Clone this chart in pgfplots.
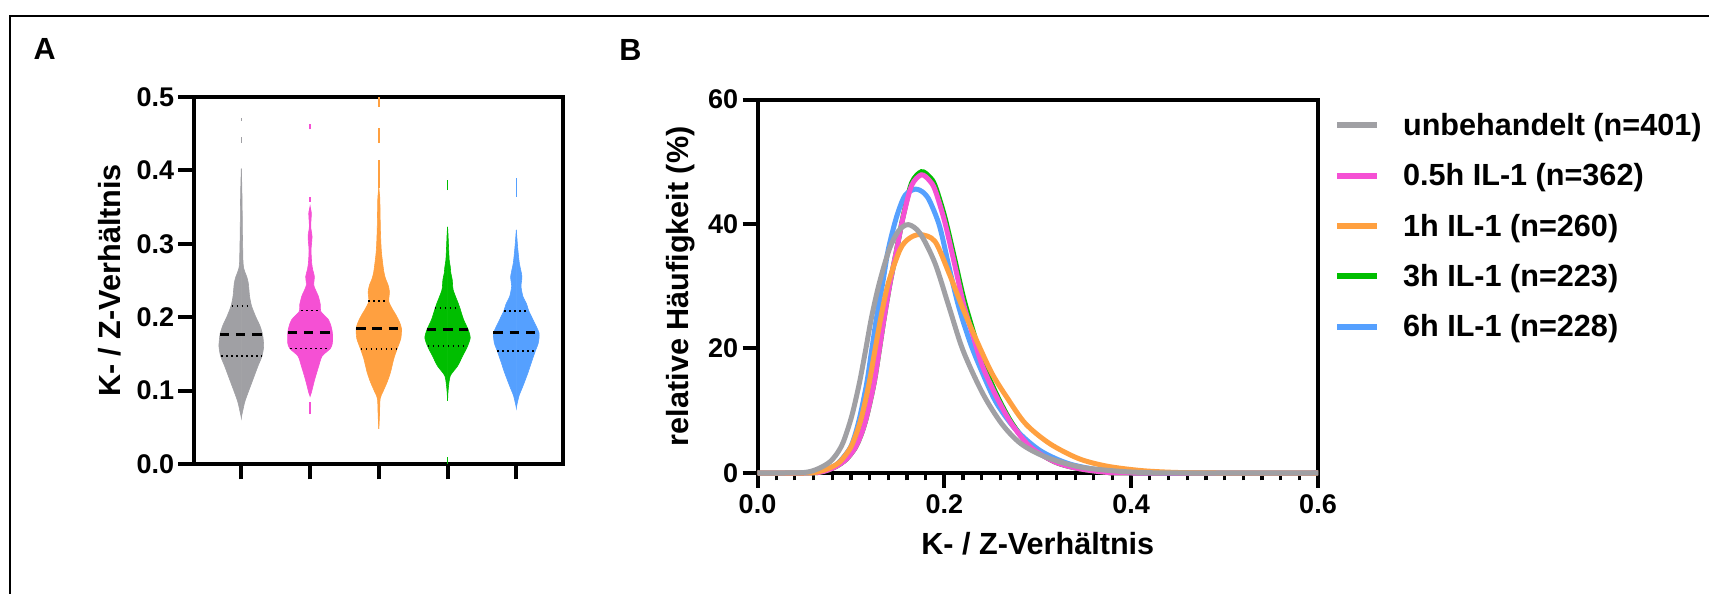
\documentclass[border=0pt]{standalone}
\usepackage{fontspec}
\setmainfont{Liberation Sans}
\usepackage{pgfplots}
\pgfplotsset{compat=1.18}
\usepackage{pgfplotstable}

\definecolor{cgray}{RGB}{160,160,164}
\definecolor{cpink}{RGB}{245,80,212}
\definecolor{corange}{RGB}{255,160,64}
\definecolor{cgreen}{RGB}{0,190,0}
\definecolor{cblue}{RGB}{85,160,255}

\newcommand{\tickfont}{\fontsize{13.5bp}{16bp}\selectfont\bfseries}
\newcommand{\labfont}{\fontsize{15.3bp}{18bp}\selectfont\bfseries}

% violin profiles: value v, half width w (in category units)
\pgfplotstableread{
v w
0.0633 0
0.0837 0.048
0.097 0.097
0.1153 0.170
0.1334 0.242
0.147 0.301
0.1606 0.325
0.176 0.310
0.188 0.272
0.201 0.208
0.215 0.150
0.228 0.121
0.2465 0.102
0.2555 0.078
0.260 0.058
0.267 0.034
0.275 0.025
0.287 0.022
0.310 0.017
0.330 0.0145
0.355 0.012
0.380 0.007
0.4025 0
}\vgray
\pgfplotstableread{
v w
0.0927 0
0.0972 0.019
0.1153 0.068
0.1334 0.126
0.147 0.175
0.1574 0.296
0.165 0.325
0.1787 0.325
0.1877 0.305
0.1967 0.267
0.208 0.155
0.217 0.150
0.2284 0.121
0.2375 0.078
0.2442 0.053
0.2555 0.063
0.2646 0.039
0.2736 0.024
0.2917 0.0145
0.3098 0.029
0.3234 0.0097
0.3415 0.019
0.3505 0
}\vpink
\pgfplotstableread{
v w
0.0478 0
0.066 0.0097
0.0888 0.019
0.098 0.058
0.1116 0.121
0.125 0.170
0.1434 0.218
0.157 0.267
0.1708 0.320
0.1844 0.330
0.1935 0.300
0.2026 0.252
0.2117 0.194
0.2217 0.145
0.2345 0.155
0.2436 0.136
0.2527 0.097
0.262 0.073
0.280 0.048
0.294 0.034
0.3165 0.024
0.339 0.019
0.362 0.0145
0.376 0
}\vorange
\pgfplotstableread{
v w
0.086 0
0.1018 0.0097
0.120 0.039
0.1334 0.145
0.147 0.218
0.1606 0.291
0.172 0.330
0.183 0.300
0.1967 0.233
0.2126 0.179
0.219 0.155
0.237 0.082
0.251 0.068
0.260 0.048
0.269 0.039
0.278 0.024
0.296 0.0145
0.3125 0.007
0.323 0
}\vgreen
\pgfplotstableread{
v w
0.0769 0
0.0927 0.039
0.1063 0.097
0.1244 0.170
0.138 0.218
0.1538 0.276
0.165 0.320
0.1787 0.330
0.1967 0.242
0.208 0.184
0.219 0.145
0.228 0.097
0.242 0.068
0.2555 0.082
0.2736 0.044
0.296 0.019
0.319 0
}\vblue

\begin{document}
\begin{tikzpicture}
\path[use as bounding box] (0,0) rectangle (854.5bp,297bp);
\draw[line width=1.2bp] (5bp,-2bp) -- (5bp,289bp) -- (858bp,289bp);
\node[anchor=base west, inner sep=0pt, font=\labfont] at (16.65bp,267bp) {A};
\node[anchor=base west, inner sep=0pt, font=\labfont] at (309.5bp,266.5bp) {B};

% ---------------- Panel A: violins ----------------
\begin{axis}[
  at={(97bp,65bp)}, anchor=south west,
  scale only axis, width=184.25bp, height=183.5bp,
  xmin=0.312, xmax=5.672, ymin=0, ymax=0.5,
  xtick={1,2,3,4,5}, xticklabels={},
  ytick={0,0.1,0.2,0.3,0.4,0.5},
  tick pos=left, tick align=outside, major tick length=7.75bp,
  axis line style={line width=2bp},
  tick style={line width=2bp, black},
  /pgf/number format/assume math mode=true,
  tick label style={font=\tickfont},
  y tick label style={/pgf/number format/fixed, /pgf/number format/fixed zerofill, /pgf/number format/precision=1, inner xsep=2bp},
  ylabel={K- / Z-Verhältnis},
  ylabel style={font=\labfont, at={(axis description cs:-0.2008,0.5)}, anchor=base},
  vio/.style={fill=#1, draw=#1, line width=0.3bp, smooth, tension=0.4, forget plot},
]
% each violin: right half and left half, each closed along the centre line
\addplot[vio=cgray] table[x expr=1+\thisrow{w}, y=v]{\vgray} -- cycle;
\addplot[vio=cgray] table[x expr=1-\thisrow{w}, y=v]{\vgray} -- cycle;
\addplot[vio=cpink] table[x expr=2+\thisrow{w}, y=v]{\vpink} -- cycle;
\addplot[vio=cpink] table[x expr=2-\thisrow{w}, y=v]{\vpink} -- cycle;
\addplot[vio=corange] table[x expr=3+\thisrow{w}, y=v]{\vorange} -- cycle;
\addplot[vio=corange] table[x expr=3-\thisrow{w}, y=v]{\vorange} -- cycle;
\addplot[vio=cgreen] table[x expr=4+\thisrow{w}, y=v]{\vgreen} -- cycle;
\addplot[vio=cgreen] table[x expr=4-\thisrow{w}, y=v]{\vgreen} -- cycle;
\addplot[vio=cblue] table[x expr=5+\thisrow{w}, y=v]{\vblue} -- cycle;
\addplot[vio=cblue] table[x expr=5-\thisrow{w}, y=v]{\vblue} -- cycle;

% isolated thin segments (single outlying values)
\addplot[cgray, line width=0.8bp, forget plot] coordinates {(1,0.438) (1,0.446)};
\addplot[cgray, line width=0.8bp, forget plot] coordinates {(1,0.467) (1,0.472)};
\addplot[cpink, line width=0.8bp, forget plot] coordinates {(2,0.357) (2,0.364)};
\addplot[cpink, line width=0.8bp, forget plot] coordinates {(2,0.456) (2,0.463)};
\addplot[cpink, line width=0.8bp, forget plot] coordinates {(2,0.068) (2,0.084)};
\addplot[corange, line width=0.8bp, forget plot] coordinates {(3,0.376) (3,0.414)};
\addplot[corange, line width=0.8bp, forget plot] coordinates {(3,0.437) (3,0.458)};
\addplot[corange, line width=0.8bp, forget plot] coordinates {(3,0.487) (3,0.5)};
\addplot[cgreen, line width=0.8bp, forget plot] coordinates {(4,0.373) (4,0.387)};
\addplot[cgreen, line width=0.8bp, forget plot] coordinates {(4,0.0) (4,0.009)};
\addplot[cblue, line width=0.8bp, forget plot] coordinates {(5,0.364) (5,0.389)};

% medians (dashed) and quartiles (dotted)
\addplot[black, line width=1.6bp, dash pattern=on 4.8bp off 3.3bp, forget plot] coordinates {(0.685,0.176) (1.315,0.176)};
\addplot[black, line width=0.9bp, dash pattern=on 0.9bp off 1.6bp, forget plot] coordinates {(0.86,0.215) (1.126,0.215)};
\addplot[black, line width=0.9bp, dash pattern=on 0.9bp off 1.6bp, forget plot] coordinates {(0.707,0.147) (1.293,0.147)};
\addplot[black, line width=1.6bp, dash pattern=on 4.8bp off 3.3bp, forget plot] coordinates {(1.673,0.1787) (2.327,0.1787)};
\addplot[black, line width=0.9bp, dash pattern=on 0.9bp off 1.6bp, forget plot] coordinates {(1.864,0.209) (2.116,0.209)};
\addplot[black, line width=0.9bp, dash pattern=on 0.9bp off 1.6bp, forget plot] coordinates {(1.71,0.1574) (2.29,0.1574)};
\addplot[black, line width=1.6bp, dash pattern=on 4.8bp off 3.3bp, forget plot] coordinates {(2.67,0.1844) (3.33,0.1844)};
\addplot[black, line width=0.9bp, dash pattern=on 0.9bp off 1.6bp, forget plot] coordinates {(2.85,0.2217) (3.116,0.2217)};
\addplot[black, line width=0.9bp, dash pattern=on 0.9bp off 1.6bp, forget plot] coordinates {(2.735,0.157) (3.265,0.157)};
\addplot[black, line width=1.6bp, dash pattern=on 4.8bp off 3.3bp, forget plot] coordinates {(3.697,0.183) (4.303,0.183)};
\addplot[black, line width=0.9bp, dash pattern=on 0.9bp off 1.6bp, forget plot] coordinates {(3.811,0.2126) (4.15,0.2126)};
\addplot[black, line width=0.9bp, dash pattern=on 0.9bp off 1.6bp, forget plot] coordinates {(3.71,0.1606) (4.29,0.1606)};
\addplot[black, line width=1.6bp, dash pattern=on 4.8bp off 3.3bp, forget plot] coordinates {(4.668,0.1787) (5.332,0.1787)};
\addplot[black, line width=0.9bp, dash pattern=on 0.9bp off 1.6bp, forget plot] coordinates {(4.825,0.208) (5.165,0.208)};
\addplot[black, line width=0.9bp, dash pattern=on 0.9bp off 1.6bp, forget plot] coordinates {(4.725,0.1538) (5.275,0.1538)};
\end{axis}

% ---------------- Panel B: density curves ----------------
\begin{axis}[
  at={(378.75bp,60.5bp)}, anchor=south west,
  scale only axis, width=280.25bp, height=186.75bp,
  xmin=0, xmax=0.6, ymin=0, ymax=60,
  xtick={0,0.2,0.4,0.6}, minor x tick num=9,
  ytick={0,20,40,60},
  tick pos=left, tick align=outside,
  major tick length=7.5bp, minor tick length=3.7bp,
  axis line style={line width=2bp},
  tick style={line width=2bp, black},
  minor tick style={line width=1.6bp},
  /pgf/number format/assume math mode=true,
  tick label style={font=\tickfont},
  x tick label style={/pgf/number format/fixed, /pgf/number format/fixed zerofill, /pgf/number format/precision=1},
  y tick label style={inner xsep=2bp},
  xlabel={K- / Z-Verhältnis},
  xlabel style={font=\labfont, at={(axis description cs:0.5,-0.218)}, anchor=base},
  ylabel={relative Häufigkeit (\%)},
  ylabel style={font=\labfont, at={(axis description cs:-0.124,0.5)}, anchor=base},
  clip=false,
  legend style={at={(1,1)}, anchor=north west, xshift=8bp, yshift=-6.75bp,
    draw=none, fill=none, inner sep=0pt, font=\labfont,
    row sep=10.65bp, column sep=11.35bp,
    nodes={inner sep=0pt, text height=11bp, text depth=3.5bp}},
  legend cell align=left,
  legend image code/.code={\draw[#1] (0bp,1.25bp) -- (20bp,1.25bp);},
]
\addlegendimage{cgray, line width=3bp}
\addlegendentry{unbehandelt (n=401)}
\addlegendimage{cpink, line width=3bp}
\addlegendentry{0.5h IL-1 (n=362)}
\addlegendimage{corange, line width=3bp}
\addlegendentry{1h IL-1 (n=260)}
\addlegendimage{cgreen, line width=3bp}
\addlegendentry{3h IL-1 (n=223)}
\addlegendimage{cblue, line width=3bp}
\addlegendentry{6h IL-1 (n=228)}

\addplot[cgreen, line width=2.5bp, smooth, tension=0.5, forget plot] coordinates {
(0,0)(0.05,0)(0.066,0.1)(0.076,0.5)(0.0848,1.1)(0.095,2.2)(0.1044,4.0)(0.111,6.2)(0.1169,9.1)(0.1247,14.4)(0.1304,19.8)(0.1358,25.1)(0.1419,30.5)(0.149,35.9)(0.156,41.3)(0.165,46.6)(0.1754,48.4)(0.184,47.6)(0.19,46.2)(0.2,41.4)(0.21,35.1)(0.2205,28.2)(0.231,22.7)(0.241,17.8)(0.256,12.6)(0.272,8.1)(0.292,4.3)(0.318,1.8)(0.344,0.7)(0.374,0.1)(0.4,0)(0.6,0)};
\addplot[cblue, line width=2.5bp, smooth, tension=0.5, forget plot] coordinates {
(0,0)(0.045,0)(0.06,0.1)(0.072,0.5)(0.085,1.4)(0.0983,3.8)(0.104,5.9)(0.1097,9.1)(0.1169,14.4)(0.1223,19.8)(0.1276,25.1)(0.134,30.5)(0.14,35.9)(0.149,41.2)(0.158,44.6)(0.169,45.6)(0.178,45.0)(0.1846,43.6)(0.195,39.6)(0.205,33.1)(0.2154,26.7)(0.228,20.8)(0.241,16.0)(0.256,11.2)(0.277,6.9)(0.3026,3.6)(0.333,1.5)(0.369,0.4)(0.4,0.05)(0.43,0)(0.6,0)};
\addplot[cpink, line width=2.5bp, smooth, tension=0.5, forget plot] coordinates {
(0,0)(0.05,0)(0.066,0.1)(0.076,0.5)(0.0848,1.1)(0.095,2.2)(0.1044,4.0)(0.111,6.2)(0.1169,9.1)(0.1247,14.4)(0.1304,19.8)(0.1358,25.1)(0.1419,30.5)(0.149,35.9)(0.156,41.2)(0.165,46.2)(0.1754,47.9)(0.184,47.0)(0.19,45.5)(0.2,40.6)(0.21,34.2)(0.2205,27.2)(0.231,21.9)(0.241,17.1)(0.256,12.2)(0.272,7.9)(0.292,4.2)(0.318,1.8)(0.344,0.7)(0.374,0.1)(0.4,0)(0.6,0)};
\addplot[corange, line width=2.5bp, smooth, tension=0.5, forget plot] coordinates {
(0,0)(0.05,0)(0.062,0.1)(0.072,0.5)(0.08,1.0)(0.0883,1.8)(0.099,3.9)(0.105,6.0)(0.1116,9.1)(0.1194,14.4)(0.1258,19.8)(0.1322,25.1)(0.14,30.5)(0.1526,35.9)(0.1625,37.7)(0.1744,38.3)(0.19,37.2)(0.205,32.1)(0.2205,26.2)(0.236,20.8)(0.251,16.0)(0.2667,12.2)(0.287,7.9)(0.313,4.7)(0.344,2.3)(0.374,1.1)(0.41,0.4)(0.446,0.1)(0.49,0)(0.6,0)};
\addplot[cgray, line width=2.5bp, smooth, tension=0.5, forget plot] coordinates {
(0,0)(0.03,0)(0.048,0.05)(0.058,0.3)(0.068,0.9)(0.0776,1.8)(0.085,3.1)(0.0919,5.0)(0.1008,9.1)(0.109,14.4)(0.1158,19.8)(0.1222,25.1)(0.1304,30.5)(0.141,35.9)(0.151,38.9)(0.1615,39.9)(0.174,38.5)(0.19,33.7)(0.205,26.7)(0.22,19.7)(0.241,12.8)(0.2615,7.9)(0.282,4.7)(0.308,2.6)(0.344,1.0)(0.385,0.3)(0.42,0.05)(0.46,0)(0.6,0)};
\end{axis}
\end{tikzpicture}
\end{document}
